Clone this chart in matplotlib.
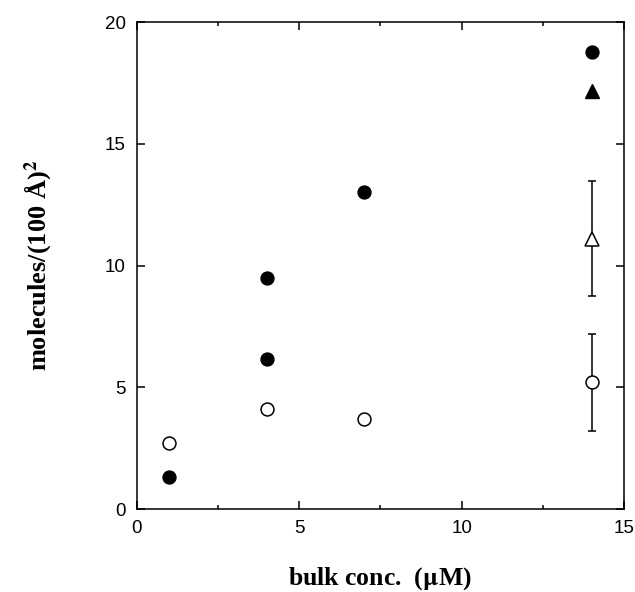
import numpy as np
import matplotlib
matplotlib.use('Agg')
import matplotlib.pyplot as plt
from matplotlib.ticker import MultipleLocator

plt.rcParams['mathtext.fontset'] = 'stix'

# filled circles
filled_x = [1, 4, 4, 7, 14]
filled_y = [1.3, 6.15, 9.5, 13.0, 18.75]
# open circles
open_x = [1, 4, 7]
open_y = [2.7, 4.1, 3.7]
# open circle with error bar at 14 uM
open_err_x = [14]
open_err_y = [5.2]
open_err_lo = [3.22]
open_err_hi = [7.2]
# triangles
tri_filled_x = [14]
tri_filled_y = [17.15]
tri_open_x = [14]
tri_open_y = [11.1]
tri_open_lo = [8.76]
tri_open_hi = [13.47]

fig = plt.figure(figsize=(6.35, 5.92), dpi=100)
ax = fig.add_axes([0.2153, 0.1402, 0.9827 - 0.2153, 0.9628 - 0.1402])

ms = 9.3
ax.plot(filled_x, filled_y, 'o', color='black', ms=ms, zorder=3)
ax.plot(open_x, open_y, 'o', mfc='white', mec='black', mew=1.1, ms=ms, zorder=3)

yerr_c = [np.array(open_err_y) - np.array(open_err_lo), np.array(open_err_hi) - np.array(open_err_y)]
ax.errorbar(open_err_x, open_err_y, yerr=yerr_c, fmt='o', mfc='white', mec='black',
            mew=1.1, ms=ms, ecolor='black', elinewidth=1.1, capsize=3, capthick=1.1, zorder=3)

ax.plot(tri_filled_x, tri_filled_y, '^', color='black', ms=ms + 1, zorder=3)
yerr_t = [np.array(tri_open_y) - np.array(tri_open_lo), np.array(tri_open_hi) - np.array(tri_open_y)]
ax.errorbar(tri_open_x, tri_open_y, yerr=yerr_t, fmt='^', mfc='white', mec='black',
            mew=1.1, ms=ms + 1, ecolor='black', elinewidth=1.1, capsize=3, capthick=1.1, zorder=3)

ax.set_xlim(0, 15)
ax.set_ylim(0, 20)
ax.xaxis.set_major_locator(MultipleLocator(5))
ax.xaxis.set_minor_locator(MultipleLocator(2.5))
ax.yaxis.set_major_locator(MultipleLocator(5))

ax.tick_params(which='both', direction='in', top=True, right=True, width=1.1,
               labelsize=13.5, pad=8)
ax.tick_params(which='major', length=6)
ax.tick_params(which='minor', length=3)
for lab in ax.get_xticklabels() + ax.get_yticklabels():
    lab.set_fontfamily('Liberation Sans')
for s in ax.spines.values():
    s.set_linewidth(1.1)

ax.set_xlabel('bulk conc.  ($\\mathbf{\\mu}$M)', fontsize=18.5, fontweight='bold',
              fontfamily='Liberation Serif', labelpad=20)
ax.set_ylabel('molecules/(100 Å)$^\\mathbf{2}$', fontsize=19, fontweight='bold',
              fontfamily='Liberation Serif', labelpad=36)

fig.savefig('out.png', dpi=100)
